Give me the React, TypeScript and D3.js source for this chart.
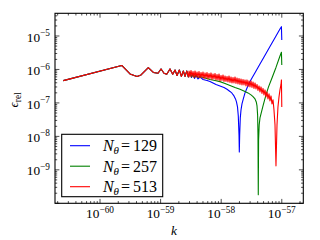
import React from "react";
import * as d3 from "d3";

// ---------- data (values stored as powers of ten: k = 10^logK, eps = 10^logEps) ----------
// segment that all three resolutions share
const sharedLogK = [-60.606, -59.642, -59.505, -59.389, -59.323, -59.203, -59.120, -59.043, -58.993, -58.944, -58.899, -58.845, -58.800, -58.762, -58.729, -58.691, -58.658, -58.625, -58.597, -58.568, -58.543];
const sharedLogEps = [-6.334, -5.881, -6.134, -6.209, -6.164, -5.946, -6.090, -6.113, -5.985, -6.113, -6.143, -5.985, -6.143, -6.015, -6.179, -6.015, -6.209, -6.045, -6.209, -6.045, -6.224];

// N_theta = 129
const blueLogK = [-58.515, -58.490, -58.465, -58.441, -58.416, -58.383, -58.350, -58.300, -58.234, -58.185, -58.135, -58.086, -58.020, -57.954, -57.904, -57.855, -57.822, -57.789, -57.764, -57.748, -57.731, -57.718, -57.706, -57.701, -57.695, -57.685, -57.673, -57.657, -57.635, -57.607, -57.574, -57.525, -57.442, -57.360, -57.277, -57.195, -57.112, -57.030, -57.006, -57.000];
const blueLogEps = [-6.090, -6.239, -6.134, -6.269, -6.179, -6.284, -6.224, -6.299, -6.328, -6.358, -6.403, -6.448, -6.493, -6.537, -6.591, -6.657, -6.710, -6.791, -6.881, -6.970, -7.119, -7.388, -7.955, -8.463, -7.955, -7.448, -7.209, -7.030, -6.881, -6.701, -6.552, -6.358, -6.096, -5.836, -5.573, -5.313, -5.051, -4.791, -4.722, -5.119];

// N_theta = 257
const greenLogK = [-58.515, -58.490, -58.465, -58.441, -58.416, -58.383, -58.350, -58.267, -58.185, -58.102, -58.020, -57.937, -57.855, -57.772, -57.690, -57.607, -57.558, -57.508, -57.475, -57.442, -57.421, -57.409, -57.399, -57.393, -57.388, -57.383, -57.373, -57.360, -57.335, -57.310, -57.261, -57.219, -57.162, -57.096, -57.030, -57.006, -57.000];
const greenLogEps = [-6.075, -6.224, -6.119, -6.239, -6.149, -6.239, -6.209, -6.254, -6.299, -6.328, -6.364, -6.418, -6.478, -6.537, -6.591, -6.657, -6.701, -6.761, -6.812, -6.881, -6.970, -7.090, -7.358, -7.955, -9.746, -8.104, -7.657, -7.448, -7.269, -7.090, -6.761, -6.522, -6.254, -5.940, -5.597, -5.487, -5.866];

// N_theta = 513
const redLogK = [-58.531, -58.515, -58.498, -58.482, -58.465, -58.449, -58.432, -58.416, -58.399, -58.383, -58.366, -58.350, -58.333, -58.317, -58.300, -58.284, -58.267, -58.251, -58.234, -58.218, -58.201, -58.185, -58.168, -58.152, -58.135, -58.119, -58.102, -58.086, -58.069, -58.053, -58.036, -58.020, -58.003, -57.987, -57.970, -57.954, -57.937, -57.921, -57.904, -57.888, -57.871, -57.855, -57.838, -57.822, -57.805, -57.789, -57.772, -57.756, -57.739, -57.723, -57.706, -57.690, -57.673, -57.657, -57.640, -57.624, -57.607, -57.591, -57.574, -57.558, -57.541, -57.525, -57.508, -57.492, -57.475, -57.459, -57.442, -57.426, -57.409, -57.393, -57.376, -57.360, -57.343, -57.327, -57.310, -57.294, -57.277, -57.261, -57.244, -57.228, -57.211, -57.195, -57.178, -57.162, -57.145, -57.129, -57.112, -57.096, -57.079, -57.063, -57.046, -57.030, -57.013, -57.006, -57.000];
const redLogEps = [-6.045, -6.224, -6.030, -6.209, -6.060, -6.239, -6.045, -6.224, -6.075, -6.239, -6.060, -6.254, -6.090, -6.239, -6.075, -6.269, -6.104, -6.254, -6.090, -6.284, -6.119, -6.269, -6.104, -6.299, -6.134, -6.284, -6.119, -6.313, -6.149, -6.313, -6.134, -6.343, -6.179, -6.328, -6.164, -6.358, -6.194, -6.358, -6.209, -6.373, -6.194, -6.388, -6.224, -6.403, -6.239, -6.403, -6.224, -6.418, -6.254, -6.433, -6.269, -6.448, -6.284, -6.463, -6.299, -6.463, -6.313, -6.493, -6.313, -6.507, -6.343, -6.522, -6.343, -6.537, -6.373, -6.567, -6.403, -6.582, -6.448, -6.627, -6.493, -6.672, -6.522, -6.716, -6.567, -6.761, -6.612, -6.821, -6.672, -6.881, -6.731, -6.940, -6.791, -7.030, -6.910, -7.209, -7.657, -8.881, -7.657, -7.119, -6.821, -6.612, -6.448, -6.313, -7.119];

const seriesNames = ["129", "257", "513"];
const seriesColors = ["#0000ff", "#008000", "#ff0000"];

const xTickExps = [-60, -59, -58, -57];
const yTickExps = [-9, -8, -7, -6, -5];
const xDomainExp = [-60.743, -56.645];
const yDomainExp = [-10.0, -4.322];

// ---------- layout ----------
const W = 320;
const H = 240;
const P = { left: 55, right: 303.3, top: 13.3, bottom: 203.3 };
const FONT = "'Liberation Serif', 'DejaVu Serif', serif";
const TS: React.CSSProperties = { fontFamily: FONT };

export default function App() {
  const x = d3.scaleLog().domain([10 ** xDomainExp[0], 10 ** xDomainExp[1]]).range([P.left, P.right]);
  const y = d3.scaleLog().domain([10 ** yDomainExp[0], 10 ** yDomainExp[1]]).range([P.bottom, P.top]);

  const mk = (lk: number[], le: number[]) => lk.map((v, i) => [10 ** v, 10 ** le[i]] as [number, number]);
  const shared = mk(sharedLogK, sharedLogEps);
  const series = [
    shared.concat(mk(blueLogK, blueLogEps)),
    shared.concat(mk(greenLogK, greenLogEps)),
    shared.concat(mk(redLogK, redLogEps)),
  ];
  const line = d3
    .line<[number, number]>()
    .x((d) => x(d[0]))
    .y((d) => y(d[1]));

  const logTicks = (dom: number[]) => {
    const out: { v: number; major: boolean }[] = [];
    for (let e = Math.floor(dom[0]); e <= Math.ceil(dom[1]); e++) {
      for (let m = 1; m <= 9; m++) {
        const lv = e + Math.log10(m);
        if (lv >= dom[0] && lv <= dom[1]) out.push({ v: m * 10 ** e, major: m === 1 });
      }
    }
    return out;
  };
  const xt = logTicks(xDomainExp);
  const yt = logTicks(yDomainExp);
  const MAJ = 4.4;
  const MIN = 2.2;

  const legendX = 61.7;
  const legendY = 134.3;
  const legendW = 101;
  const legendH = 62.4;
  const legendRows = [145.7, 166.2, 186.7];

  return (
    <svg width={W} height={H} style={{ display: "block", position: "absolute", left: 0, top: 0 }}>
      <rect x={0} y={0} width={W} height={H} fill="#ffffff" />
      <defs>
        <clipPath id="plotclip">
          <rect x={P.left} y={P.top} width={P.right - P.left} height={P.bottom - P.top} />
        </clipPath>
      </defs>
      <g clipPath="url(#plotclip)">
        {series.map((s, i) => (
          <path key={i} d={line(s) || ""} fill="none" stroke={seriesColors[i]} strokeWidth={1.1} strokeLinejoin="round" />
        ))}
      </g>
      {/* ticks */}
      <g stroke="#000" strokeWidth={0.7}>
        {xt.map((t, i) => {
          const px = x(t.v);
          const L = t.major ? MAJ : MIN;
          return (
            <g key={"x" + i}>
              <line x1={px} x2={px} y1={P.bottom} y2={P.bottom - L} />
              <line x1={px} x2={px} y1={P.top} y2={P.top + L} />
            </g>
          );
        })}
        {yt.map((t, i) => {
          const py = y(t.v);
          const L = t.major ? MAJ : MIN;
          return (
            <g key={"y" + i}>
              <line x1={P.left} x2={P.left + L} y1={py} y2={py} />
              <line x1={P.right} x2={P.right - L} y1={py} y2={py} />
            </g>
          );
        })}
      </g>
      <rect x={P.left} y={P.top} width={P.right - P.left} height={P.bottom - P.top} fill="none" stroke="#000" strokeWidth={1.1} />
      {/* tick labels */}
      {xTickExps.map((e) => (
        <text key={"xl" + e} x={x(10 ** e)} y={218.3} fontSize={13.3} textAnchor="middle" fill="#000" style={TS}>
          10
          <tspan fontSize={9.3} dy={-5.5}>{"\u2212" + Math.abs(e)}</tspan>
        </text>
      ))}
      {yTickExps.map((e) => (
        <text key={"yl" + e} x={50} y={y(10 ** e) + 5.6} fontSize={13.3} textAnchor="end" fill="#000" style={TS}>
          10
          <tspan fontSize={9.3} dy={-5.5}>{"\u2212" + Math.abs(e)}</tspan>
        </text>
      ))}
      {/* axis labels */}
      <text x={174} y={235} fontSize={13.3} fontStyle="italic" textAnchor="middle" fill="#000" style={TS}>
        k
      </text>
      <text transform={`translate(18,100) rotate(-90)`} fontSize={13.3} textAnchor="middle" fill="#000" style={TS}>
        <tspan fontStyle="italic">{"\u03F5"}</tspan>
        <tspan fontSize={9.3} dy={2.5}>rel</tspan>
      </text>
      {/* legend */}
      <rect x={legendX} y={legendY} width={legendW} height={legendH} fill="#ffffff" stroke="#000" strokeWidth={1.1} />
      {seriesNames.map((n, i) => (
        <g key={"lg" + i}>
          <line x1={70} x2={90} y1={legendRows[i]} y2={legendRows[i]} stroke={seriesColors[i]} strokeWidth={1.1} />
          <text y={legendRows[i] + 5.5} fontSize={16} fill="#000" style={TS}>
            <tspan x={103} fontStyle="italic">N</tspan>
            <tspan x={113.5} fontStyle="italic" fontSize={11} dy={3}>{"\u03B8"}</tspan>
            <tspan x={121} dy={-3}>=</tspan>
            <tspan x={133}>{n}</tspan>
          </text>
        </g>
      ))}
    </svg>
  );
}
